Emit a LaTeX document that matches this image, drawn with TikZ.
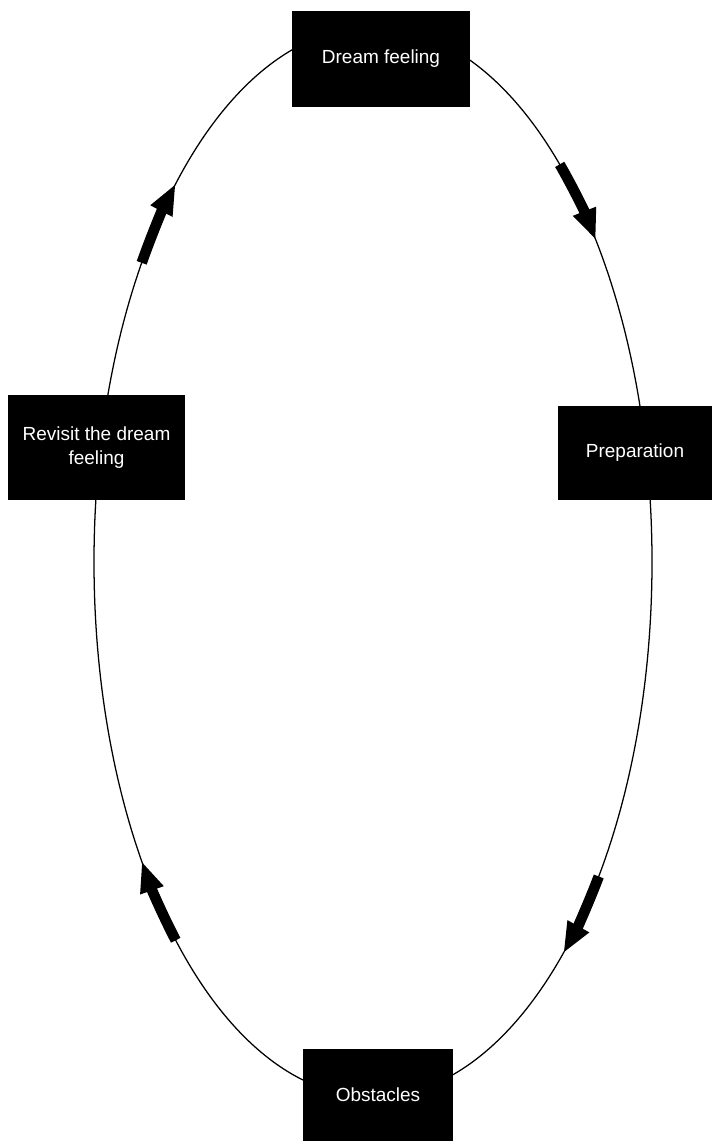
\documentclass[tikz,border=0pt]{standalone}
\usepackage{fontspec}
\setmainfont{Liberation Sans}
\usetikzlibrary{arrows.meta}
\tikzset{
	stagebox/.style={fill=black, text=white, inner sep=0pt, align=center,
		font=\fontsize{13.5}{17.5}\selectfont},
	cyclearrow/.style={line width=7.5pt, -{Triangle[length=22pt, width=16pt]}},
}

\begin{document}
\begin{tikzpicture}[x=0.025cm, y=0.025cm]
		\useasboundingbox (0,0) rectangle (712,1141);
		\coordinate (C) at (373,579);
		
		% the cycle
		\draw[line width=0.9pt] (C) ellipse [x radius=279, y radius=535];
		
		% arrows on the cycle
		\draw[cyclearrow] (C) ++(48:279 and 535) arc[start angle=48, end angle=37, x radius=279, y radius=535];
		\draw[cyclearrow] (C) ++(-36:279 and 535) arc[start angle=-36, end angle=-47, x radius=279, y radius=535];
		\draw[cyclearrow] (C) ++(225:279 and 535) arc[start angle=225, end angle=214, x radius=279, y radius=535];
		\draw[cyclearrow] (C) ++(146:279 and 535) arc[start angle=146, end angle=135, x radius=279, y radius=535];
		
		% stages
		\node[stagebox, minimum width=4.45cm, minimum height=2.4cm] (dream) at (381,1082) {Dream feeling};
		\node[stagebox, minimum width=3.85cm, minimum height=2.35cm] (prep) at (635,688) {Preparation};
		\node[stagebox, minimum width=3.75cm, minimum height=2.3cm] (obst) at (378,46) {Obstacles};
		\node[stagebox, minimum width=4.42cm, minimum height=2.62cm] (revisit) at (96.5,693.5) {Revisit the dream\\feeling};
	\end{tikzpicture}
\end{document}
